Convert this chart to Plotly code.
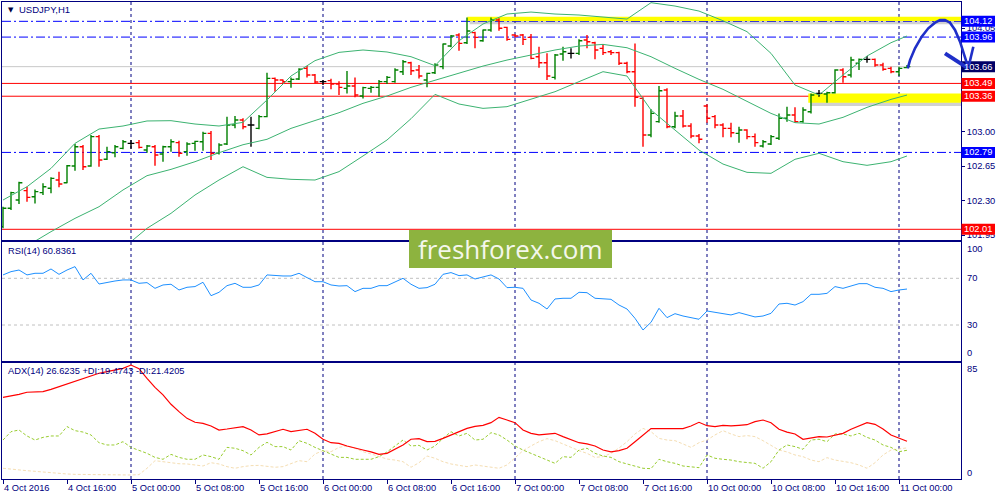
import plotly.graph_objects as go

# ---------------- data ----------------
bar_idx = list(range(114))
opens = [102.037,102.223,102.307,102.402,102.341,102.382,102.426,102.510,102.483,102.652,
         102.848,102.652,102.950,102.720,102.787,102.831,102.882,102.889,102.814,102.848,
         102.774,102.848,102.889,102.798,102.882,102.899,102.983,102.781,102.875,103.068,
         103.119,103.068,103.034,103.153,103.541,103.524,103.508,103.535,103.643,103.575,
         103.508,103.518,103.484,103.440,103.464,103.362,103.440,103.450,103.508,103.508,
         103.609,103.700,103.626,103.524,103.599,103.660,103.869,103.981,103.903,104.005,
         103.923,104.032,104.133,104.059,103.981,103.981,103.957,103.761,103.700,103.551,
         103.788,103.795,103.795,103.930,103.903,103.846,103.812,103.802,103.694,103.609,
         103.338,102.967,103.102,103.423,103.051,103.159,103.058,102.956,103.261,103.153,
         103.068,103.034,102.983,103.017,102.950,102.855,102.875,102.933,103.136,103.170,
         103.102,103.203,103.389,103.382,103.396,103.626,103.575,103.694,103.734,103.734,
         103.677,103.643,103.609,103.650]
highs = [102.239,102.392,102.493,102.442,102.415,102.476,102.537,102.595,102.662,102.875,
         102.865,102.967,102.967,102.848,102.865,102.916,102.916,102.916,102.865,102.865,
         102.858,102.923,102.909,102.892,102.909,103.000,103.007,102.882,103.153,103.159,
         103.136,103.153,103.170,103.599,103.551,103.531,103.551,103.643,103.666,103.585,
         103.524,103.538,103.511,103.616,103.551,103.457,103.464,103.524,103.565,103.643,
         103.727,103.710,103.677,103.599,103.694,103.896,103.981,103.998,104.160,104.015,
         104.038,104.160,104.150,104.066,103.988,103.991,103.991,103.863,103.795,103.788,
         103.863,103.846,103.937,103.981,103.913,103.890,103.829,103.812,103.710,103.896,
         103.349,103.227,103.464,103.440,103.203,103.220,103.085,102.977,103.278,103.170,
         103.085,103.092,103.051,103.024,102.983,102.916,102.967,103.186,103.254,103.247,
         103.247,103.389,103.423,103.406,103.633,103.643,103.761,103.744,103.768,103.744,
         103.700,103.660,103.660,103.677]
lows = [102.020,102.206,102.267,102.290,102.273,102.358,102.375,102.436,102.476,102.605,
        102.611,102.645,102.645,102.713,102.740,102.821,102.828,102.831,102.787,102.655,
        102.696,102.798,102.747,102.757,102.808,102.808,102.713,102.770,102.865,103.034,
        103.024,102.848,103.024,103.146,103.406,103.484,103.447,103.524,103.551,103.491,
        103.474,103.430,103.372,103.389,103.349,103.338,103.396,103.355,103.484,103.497,
        103.575,103.575,103.541,103.450,103.585,103.633,103.856,103.822,103.890,103.846,
        103.913,104.015,104.025,103.923,103.957,103.880,103.734,103.650,103.524,103.531,
        103.721,103.744,103.778,103.846,103.734,103.778,103.778,103.677,103.592,103.254,
        102.848,102.943,103.092,103.034,103.034,103.044,102.933,102.882,103.092,103.034,
        102.943,102.943,102.889,102.923,102.848,102.841,102.865,102.916,103.102,103.092,
        103.092,103.186,103.355,103.295,103.389,103.497,103.551,103.626,103.700,103.660,
        103.619,103.592,103.565,103.643]
closes = [102.223,102.382,102.483,102.334,102.392,102.442,102.527,102.469,102.655,102.848,
          102.645,102.950,102.713,102.798,102.848,102.899,102.882,102.841,102.855,102.764,
          102.848,102.899,102.781,102.875,102.902,102.983,102.781,102.865,103.068,103.119,
          103.051,103.068,103.153,103.541,103.524,103.508,103.531,103.633,103.575,103.504,
          103.508,103.484,103.450,103.464,103.372,103.447,103.450,103.508,103.551,103.626,
          103.710,103.619,103.565,103.592,103.677,103.890,103.971,103.896,104.022,103.957,
          104.032,104.133,104.049,103.937,103.971,103.937,103.744,103.700,103.565,103.778,
          103.812,103.795,103.923,103.913,103.829,103.802,103.802,103.694,103.609,103.349,
          102.967,103.186,103.416,103.051,103.159,103.058,102.956,102.923,103.136,103.068,
          103.034,102.990,103.017,102.950,102.889,102.899,102.950,103.136,103.170,103.102,
          103.220,103.372,103.389,103.396,103.626,103.558,103.727,103.734,103.734,103.677,
          103.633,103.609,103.643,103.660]

bb_idx = [0,3,6,9,12,15,18,21,24,27,30,33,36,39,42,45,48,51,54,57,60,63,66,69,72,75,78,
          81,84,87,90,93,96,99,102,105,108,111,113]
bb_upper = [102.307,102.442,102.628,102.882,103.027,103.058,103.109,103.112,103.078,103.058,
            103.095,103.322,103.565,103.721,103.805,103.829,103.809,103.761,103.670,103.923,
            104.093,104.194,104.214,104.194,104.184,104.167,104.143,104.309,104.275,104.224,
            104.126,104.015,103.795,103.474,103.372,103.575,103.768,103.903,103.971]
bb_middle = [101.715,101.841,101.986,102.121,102.239,102.409,102.554,102.618,102.696,102.787,
             102.868,102.923,103.034,103.112,103.193,103.288,103.362,103.450,103.524,103.599,
             103.666,103.727,103.778,103.829,103.869,103.886,103.852,103.761,103.643,103.531,
             103.430,103.305,103.186,103.092,103.078,103.146,103.247,103.328,103.372]
bb_lower = [101.124,101.239,101.343,101.428,101.631,101.817,102.020,102.172,102.358,102.510,
            102.645,102.537,102.517,102.510,102.595,102.754,102.916,103.132,103.379,103.281,
            103.237,103.254,103.328,103.406,103.508,103.609,103.565,103.220,103.017,102.814,
            102.672,102.588,102.578,102.720,102.781,102.696,102.659,102.696,102.754]

rsi = [72.9,75.7,77.1,72.9,74.3,74.3,78.0,73.4,77.1,80.0,68.6,74.3,65.1,66.6,67.7,68.6,68.6,
       65.7,66.3,61.4,64.3,64.9,60.0,62.3,62.9,66.6,55.1,58.0,63.7,65.7,62.3,62.3,64.3,72.9,
       72.3,72.0,72.0,74.3,70.6,67.1,67.1,64.3,63.4,63.7,58.6,61.4,61.4,63.7,63.7,66.6,70.0,
       64.9,61.4,62.0,64.9,73.4,74.9,72.3,72.9,69.4,71.4,72.9,69.4,62.0,62.3,61.4,51.4,48.6,
       43.7,52.3,52.9,52.9,58.0,57.7,52.9,52.3,52.0,47.1,43.7,35.7,25.7,32.3,44.3,36.3,39.7,
       37.7,36.3,34.9,42.0,40.9,40.0,38.6,40.6,38.6,36.9,37.7,40.0,48.0,48.6,47.1,50.0,56.3,
       56.3,57.1,62.9,61.4,63.7,65.4,65.4,62.3,61.4,58.6,60.0,60.8]

adx = [61.3,62.4,63.7,65.3,65.5,65.8,67.6,69.7,71.8,73.9,76.1,78.2,80.3,81.6,82.9,84.2,86.8,
       83.9,76.3,69.2,63.2,55.8,50.0,44.7,41.6,40.8,38.7,35.5,36.3,37.4,38.2,35.5,31.6,32.4,
       34.2,36.1,34.2,35.0,36.1,32.9,28.2,25.5,25.0,22.9,21.1,19.7,18.2,16.3,17.1,20.3,23.7,
       28.2,28.7,26.3,26.6,28.9,31.6,34.2,36.8,38.4,39.2,41.3,45.5,43.4,41.3,35.5,32.9,31.6,
       32.4,32.9,30.3,28.2,25.5,24.5,22.9,19.7,18.2,19.2,21.1,26.3,31.6,36.6,36.6,36.6,36.6,
       36.6,38.7,41.6,38.9,38.2,39.2,38.7,39.2,39.7,42.1,43.4,41.3,36.1,33.9,32.4,28.2,29.2,
       30.3,30.0,31.3,32.9,36.1,38.7,41.3,40.0,36.3,31.6,29.0,26.6]
plus_di = [27.6,34.2,35.5,30.8,27.6,29.7,30.8,30.8,38.2,35.0,33.9,31.6,25.5,23.7,23.7,26.3,
           21.8,19.7,17.1,13.9,12.4,16.3,13.9,12.4,12.4,15.8,14.5,12.4,21.8,21.1,19.2,15.8,
           21.8,25.8,22.4,22.4,19.7,27.1,25.0,21.8,19.2,16.6,13.9,13.9,12.4,12.4,12.4,14.5,
           18.2,22.9,27.6,22.9,23.4,19.7,22.9,28.9,34.2,30.8,32.9,27.6,28.2,33.4,31.6,27.6,
           22.9,19.7,17.1,13.9,11.3,9.2,14.5,13.9,19.7,21.1,17.1,15.0,13.9,10.5,8.7,7.1,5.3,
           5.0,12.4,10.5,9.2,7.1,6.6,5.8,15.8,13.2,12.4,11.8,10.5,9.7,9.2,5.3,10.5,19.7,23.7,
           22.4,20.3,27.6,28.2,26.3,32.4,32.4,30.8,32.9,29.7,27.6,23.7,21.8,18.4,19.5]
minus_di = [5.3,4.5,3.9,3.4,2.9,2.4,1.3,1.1,0.8,0.5,0.4,0.3,0.2,0.1,0.1,0.0,0.0,0.3,5.3,11.3,
            10.5,9.2,8.9,8.7,7.9,7.1,9.7,8.7,6.6,5.3,6.6,7.4,7.6,6.6,6.1,6.6,8.7,11.3,10.5,
            16.6,19.2,18.4,21.8,22.9,21.1,18.4,16.6,14.5,12.6,11.8,10.5,6.1,9.7,15.0,13.2,
            10.5,8.7,7.6,6.6,7.9,7.1,6.6,5.3,7.9,13.9,19.2,22.9,26.3,28.7,27.1,24.5,21.8,
            19.2,17.1,13.9,14.5,17.1,21.3,26.3,32.4,36.8,34.2,28.9,27.6,27.1,24.5,21.8,25.5,
            27.6,31.6,35.0,32.4,30.3,31.1,30.3,27.1,23.7,19.7,18.2,15.8,14.5,11.8,10.5,13.7,
            11.8,10.8,9.7,7.9,5.3,9.7,15.8,19.7,20.8,21.4]

time_tick_idx = [0,8,16,24,32,40,48,56,64,72,80,88,96,104,112]
time_tick_text = ["4 Oct 2016","4 Oct 16:00","5 Oct 00:00","5 Oct 08:00","5 Oct 16:00",
                  "6 Oct 00:00","6 Oct 08:00","6 Oct 16:00","7 Oct 00:00","7 Oct 08:00",
                  "7 Oct 16:00","10 Oct 00:00","10 Oct 08:00","10 Oct 16:00","11 Oct 00:00"]
day_sep_idx = [16,40,64,88,112]
price_ticks = [101.95,102.30,102.65,103.00,104.05]
blue_levels = [104.12,103.96,102.79]
red_levels = [103.49,103.36,102.01]
bid_level = 103.66
price_labels = [(104.12,"#0000FF"),(103.96,"#0000FF"),(103.66,"#000066"),
                (103.49,"#FF0000"),(103.36,"#FF0000"),(102.79,"#0000FF"),(102.01,"#FF0000")]
zones = [(58.04,104.122,104.166),(100.66,103.294,103.389)]  # (start bar, low, high)
# hand-drawn forecast arrow, in (bar, price)
arrow_arc = [(113.09,103.643),(113.38,103.727),(114.0,103.846),(114.84,103.964),
             (115.66,104.049),(116.5,104.106),(117.13,104.133),(117.75,104.133),
             (118.38,104.106),(119.0,104.032),(119.63,103.913),(120.16,103.778),
             (120.59,103.667)]
arrow_head = [[(117.75,103.795),(120.66,103.643)],[(121.29,103.862),(120.75,103.677)]]

# ---------------- layout geometry ----------------
NAVY = "#000080"
FONT = "Liberation Sans"
ML, MR, MT, MB = 2, 39, 2, 21
W, H = 1000, 500
PW, PH = W - ML - MR, H - MT - MB
XR = [-0.125, -0.125 + PW / 8.0]
D1 = [(479 - 240) / PH, 1.0]
D2 = [(479 - 361) / PH, (479 - 242) / PH]
D3 = [0.0, (479 - 363) / PH]
Y1R = [101.9015, 104.316]
Y2R = [-0.84, 101.1]
Y3R = [-3.16, 88.4]

def fx(px):
    return (px - ML) / PW

def fy(py):
    return (H - MB - py) / PH

def xp(i):
    return (i - XR[0]) / (XR[1] - XR[0])

def yp(p):
    return D1[0] + (p - Y1R[0]) / (Y1R[1] - Y1R[0]) * (D1[1] - D1[0])

fig = go.Figure()

# OHLC bars split by colour
groups = {"#008000": [], "#FF0000": [], "#000000": []}
for i in bar_idx:
    c = "#008000" if closes[i] > opens[i] else ("#FF0000" if closes[i] < opens[i] else "#000000")
    for k in groups:
        groups[k].append(i if k == c else None)
for col, sel in groups.items():
    o = [opens[i] if s is not None else None for i, s in zip(bar_idx, sel)]
    h = [highs[i] if s is not None else None for i, s in zip(bar_idx, sel)]
    l = [lows[i] if s is not None else None for i, s in zip(bar_idx, sel)]
    c_ = [closes[i] if s is not None else None for i, s in zip(bar_idx, sel)]
    fig.add_trace(go.Ohlc(x=bar_idx, open=o, high=h, low=l, close=c_, xaxis="x", yaxis="y",
                          tickwidth=0.42,
                          increasing=dict(line=dict(color=col, width=1.4)),
                          decreasing=dict(line=dict(color=col, width=1.4)),
                          hoverinfo="skip"))

for band in (bb_upper, bb_middle, bb_lower):
    fig.add_trace(go.Scatter(x=bb_idx, y=band, mode="lines", xaxis="x", yaxis="y",
                             line=dict(color="#3CB371", width=1), hoverinfo="skip"))

fig.add_trace(go.Scatter(x=bar_idx, y=rsi, mode="lines", xaxis="x2", yaxis="y2",
                         line=dict(color="#1E90FF", width=1), hoverinfo="skip"))

fig.add_trace(go.Scatter(x=bar_idx, y=minus_di, mode="lines", xaxis="x3", yaxis="y3",
                         line=dict(color="#F5DEB3", width=1, dash="3px,2px"), hoverinfo="skip"))
fig.add_trace(go.Scatter(x=bar_idx, y=plus_di, mode="lines", xaxis="x3", yaxis="y3",
                         line=dict(color="#9ACD32", width=1, dash="3px,2px"), hoverinfo="skip"))
fig.add_trace(go.Scatter(x=bar_idx, y=adx, mode="lines", xaxis="x3", yaxis="y3",
                         line=dict(color="#FF0000", width=1.2), hoverinfo="skip"))

shapes = []
# yellow zones with shadow
for x0, lo, hi in zones:
    shapes.append(dict(type="rect", xref="x", yref="y", x0=x0 + 0.3, x1=XR[1],
                       y0=lo - 0.032, y1=lo + 0.004, fillcolor="rgba(90,90,90,0.28)",
                       line=dict(width=0), layer="below"))
    shapes.append(dict(type="rect", xref="x", yref="y", x0=x0, x1=XR[1], y0=lo, y1=hi,
                       fillcolor="#FFFF00", line=dict(width=0), layer="below"))
# day separators
for d in day_sep_idx:
    shapes.append(dict(type="line", xref="x", yref="paper", x0=d, x1=d, y0=0, y1=1,
                       line=dict(color=NAVY, width=1, dash="3px,3px"), layer="below"))
# horizontal levels
shapes.append(dict(type="line", xref="paper", yref="y", x0=0, x1=1, y0=bid_level, y1=bid_level,
                   line=dict(color="#C8C8C8", width=1), layer="below"))
for lv in blue_levels:
    shapes.append(dict(type="line", xref="paper", yref="y", x0=0, x1=1, y0=lv, y1=lv,
                       line=dict(color="#0000FF", width=1, dash="9px,3px,2px,3px"), layer="below"))
for lv in red_levels:
    shapes.append(dict(type="line", xref="paper", yref="y", x0=0, x1=1, y0=lv, y1=lv,
                       line=dict(color="#FF0000", width=1), layer="below"))
# RSI levels
for lv in (70, 30):
    shapes.append(dict(type="line", xref="paper", yref="y2", x0=0, x1=1, y0=lv, y1=lv,
                       line=dict(color="#C0C0C0", width=1, dash="3px,3px"), layer="below"))
# price label boxes on the axis
for p, col in price_labels:
    shapes.append(dict(type="rect", xref="paper", yref="paper", x0=fx(961.5), x1=fx(995),
                       y0=yp(p) - 5.5 / PH, y1=yp(p) + 5.5 / PH, fillcolor=col,
                       line=dict(width=0), layer="above"))
# watermark box
shapes.append(dict(type="rect", xref="paper", yref="paper", x0=fx(409), x1=fx(612),
                   y0=fy(268), y1=fy(230), fillcolor="#8DB33F", line=dict(width=0),
                   layer="above"))
# hand drawn arrow
path = "M " + " L ".join(f"{xp(i):.5f},{yp(p):.5f}" for i, p in arrow_arc)
shapes.append(dict(type="path", xref="paper", yref="paper", path=path,
                   line=dict(color="#1F2FC8", width=2.6), layer="above"))
for k, seg in enumerate(arrow_head):
    pth = "M " + " L ".join(f"{xp(i):.5f},{yp(p):.5f}" for i, p in seg)
    shapes.append(dict(type="path", xref="paper", yref="paper", path=pth,
                       line=dict(color="#1F2FC8", width=4 if k == 0 else 2.6), layer="above"))

ann = []
for p, col in price_labels:
    ann.append(dict(xref="paper", yref="y", x=fx(978.5), y=p, text=f"{p:.2f}",
                    showarrow=False, xanchor="center", yanchor="middle",
                    font=dict(family=FONT, size=9.3, color="white")))
for v, sh in ((100, -6), (70, 0), (30, 0), (0, 7)):
    ann.append(dict(xref="paper", yref="y2", x=fx(965), y=v, yshift=sh, text=str(v),
                    showarrow=False, xanchor="left", yanchor="middle",
                    font=dict(family=FONT, size=9.3, color=NAVY)))
for v, sh in ((85, -2), (0, 2)):
    ann.append(dict(xref="paper", yref="y3", x=fx(965), y=v, yshift=sh, text=str(v),
                    showarrow=False, xanchor="left", yanchor="middle",
                    font=dict(family=FONT, size=9.3, color=NAVY)))
# time axis labels, left-aligned at their ticks as in the terminal
for t, txt in zip(time_tick_idx, time_tick_text):
    ann.append(dict(xref="x3", yref="paper", x=t, xshift=-1.5, y=fy(488), text=txt,
                    showarrow=False, xanchor="left", yanchor="middle",
                    font=dict(family=FONT, size=9.3, color=NAVY)))
ann.append(dict(xref="paper", yref="paper", x=fx(6), y=fy(10), text="▼", showarrow=False,
                xanchor="left", yanchor="middle", font=dict(family="DejaVu Sans", size=7, color="#000040")))
ann.append(dict(xref="paper", yref="paper", x=fx(17), y=fy(10), text="USDJPY,H1", showarrow=False,
                xanchor="left", yanchor="middle", font=dict(family=FONT, size=9.5, color=NAVY)))
ann.append(dict(xref="paper", yref="paper", x=fx(6), y=fy(251), text="RSI(14) 60.8361",
                showarrow=False, xanchor="left", yanchor="middle",
                font=dict(family=FONT, size=9.3, color=NAVY)))
ann.append(dict(xref="paper", yref="paper", x=fx(6), y=fy(371),
                text="ADX(14) 26.6235 +DI:19.4743 -DI:21.4205",
                showarrow=False, xanchor="left", yanchor="middle",
                font=dict(family=FONT, size=9.3, color=NAVY)))
ann.append(dict(xref="paper", yref="paper", x=fx(510), y=fy(249), text="freshforex.com",
                showarrow=False, xanchor="center", yanchor="middle",
                font=dict(family="Open Sans", size=26, color="#F4F7EC")))

common_x = dict(range=XR, showgrid=False, zeroline=False, showline=True, mirror=True,
                linecolor=NAVY, linewidth=1, fixedrange=True)
common_y = dict(side="right", showgrid=False, zeroline=False, showline=True, mirror=True,
                linecolor=NAVY, linewidth=1, fixedrange=True)

fig.update_layout(
    width=W, height=H, margin=dict(l=ML, r=MR, t=MT, b=MB),
    paper_bgcolor="white", plot_bgcolor="white", showlegend=False, hovermode=False,
    font=dict(family=FONT, size=9.3, color=NAVY),
    xaxis=dict(common_x, domain=[0, 1], anchor="y", showticklabels=False, ticks="",
               rangeslider=dict(visible=False)),
    xaxis2=dict(common_x, domain=[0, 1], anchor="y2", matches="x", showticklabels=False, ticks=""),
    xaxis3=dict(common_x, domain=[0, 1], anchor="y3", matches="x", ticks="outside", ticklen=4,
                tickcolor=NAVY, tickvals=time_tick_idx, showticklabels=False),
    yaxis=dict(common_y, domain=D1, range=Y1R, anchor="x", tickvals=price_ticks,
               ticktext=[f"{t:.2f}" for t in price_ticks], ticks="outside", ticklen=3,
               tickcolor=NAVY, tickfont=dict(family=FONT, size=9.3, color=NAVY)),
    yaxis2=dict(common_y, domain=D2, range=Y2R, anchor="x2", showticklabels=False, ticks=""),
    yaxis3=dict(common_y, domain=D3, range=Y3R, anchor="x3", showticklabels=False, ticks=""),
    shapes=shapes, annotations=ann,
)

fig.write_html("out.html", config={"displayModeBar": False},
               post_script="document.body.style.margin='0';")
